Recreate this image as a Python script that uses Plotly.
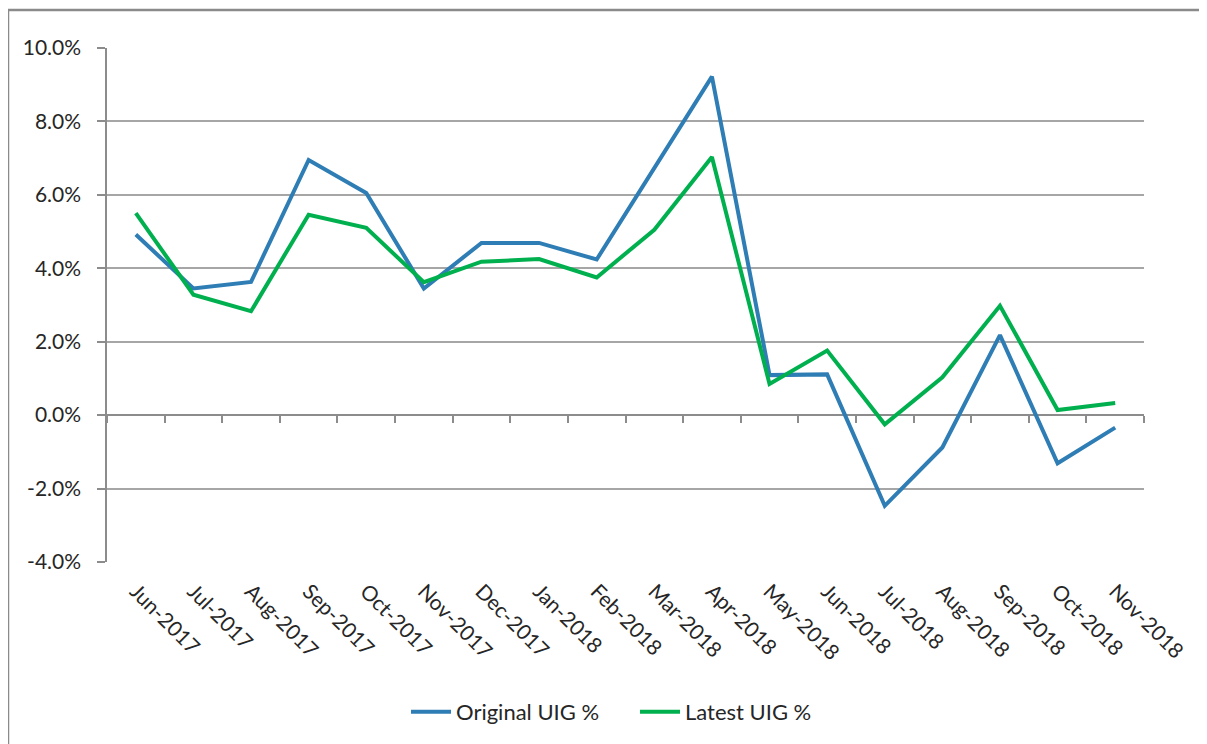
import plotly.graph_objects as go

months = ["Jun-2017", "Jul-2017", "Aug-2017", "Sep-2017", "Oct-2017", "Nov-2017",
          "Dec-2017", "Jan-2018", "Feb-2018", "Mar-2018", "Apr-2018", "May-2018",
          "Jun-2018", "Jul-2018", "Aug-2018", "Sep-2018", "Oct-2018", "Nov-2018"]
original_uig = [4.92, 3.45, 3.63, 6.95, 6.05, 3.45, 4.69, 4.69, 4.24, 6.74, 9.22, 1.09,
                1.11, -2.47, -0.88, 2.18, -1.31, -0.34]
latest_uig = [5.50, 3.28, 2.83, 5.46, 5.10, 3.62, 4.18, 4.25, 3.75, 5.05, 7.03, 0.85,
              1.76, -0.25, 1.03, 2.98, 0.14, 0.33]
y_ticks = [-4, -2, 0, 2, 4, 6, 8, 10]
y_tick_labels = ["-4.0%", "-2.0%", "0.0%", "2.0%", "4.0%", "6.0%", "8.0%", "10.0%"]

# page has an 8px body margin, so the figure starts at page (8, 8)
OFF = 8
W, H = 1207 - OFF, 744 - OFF
ML, MT = 107 - OFF, 48 - OFF
MR, MB = 1207 - 1144, 744 - 562
PW, PH = W - ML - MR, H - MT - MB
FONT = "Lato"
FS = 21
TXT = "#262626"
AXC = "#8c8c8c"
GRID = "#a6a6a6"

fig = go.Figure()
fig.add_trace(go.Scatter(x=months, y=original_uig, mode="lines", name="Original UIG %",
                         line=dict(color="#2e7db5", width=4), hoverinfo="x+y"))
fig.add_trace(go.Scatter(x=months, y=latest_uig, mode="lines", name="Latest UIG %",
                         line=dict(color="#00b04f", width=4), hoverinfo="x+y"))
# helper trace for the axis at zero (category boundaries)
fig.add_trace(go.Scatter(x=list(range(len(months))), y=latest_uig, xaxis="x2", mode="markers",
                         marker=dict(opacity=0), showlegend=False, hoverinfo="skip"))

ymin, ymax = y_ticks[0], y_ticks[-1]
fig.update_layout(
    width=W, height=H,
    margin=dict(l=ML, r=MR, t=MT, b=MB, pad=0),
    paper_bgcolor="white", plot_bgcolor="white",
    font=dict(family=FONT, size=FS, color=TXT),
    showlegend=True,
    legend=dict(orientation="h", xref="container", yref="container",
                x=(406 - OFF) / W, xanchor="left", y=1 - (712 - OFF) / H, yanchor="middle",
                font=dict(family=FONT, size=22, color=TXT), itemwidth=40,
                entrywidth=174, tracegroupgap=0),
    xaxis=dict(type="category", categoryarray=months, range=[-0.5, len(months) - 0.5],
               showgrid=False, showline=False, ticks="", tickangle=45,
               tickfont=dict(family=FONT, size=FS, color=TXT), ticklabelstandoff=12,
               zeroline=False),
    xaxis2=dict(overlaying="x", anchor="free", position=(0 - ymin) / (ymax - ymin),
                range=[-0.5, len(months) - 0.5], tick0=-0.5, dtick=1,
                ticks="outside", ticklen=7, tickwidth=1.5, tickcolor=AXC,
                showline=True, linecolor=AXC, linewidth=1.5, showgrid=False,
                showticklabels=False, zeroline=False, layer="below traces"),
    yaxis=dict(range=[ymin, ymax], tickvals=y_ticks, ticktext=y_tick_labels,
               showgrid=True, gridcolor=GRID, gridwidth=1.5,
               showline=True, linecolor=AXC, linewidth=1.5,
               ticks="outside", ticklen=8, tickwidth=1.5, tickcolor=AXC,
               tickfont=dict(family=FONT, size=FS, color=TXT), ticklabelstandoff=12,
               zeroline=False, layer="below traces"),
)

# outer chart frame
fig.add_shape(type="rect", xref="paper", yref="paper",
              x0=(8 - 107) / PW, x1=(1207 + 10 - 107) / PW,
              y0=-(MB + 10) / PH, y1=1 + (48 - 10) / PH,
              line=dict(color="#8a8a8a", width=2.5), fillcolor="rgba(0,0,0,0)", layer="below")

fig.write_html("out.html")
